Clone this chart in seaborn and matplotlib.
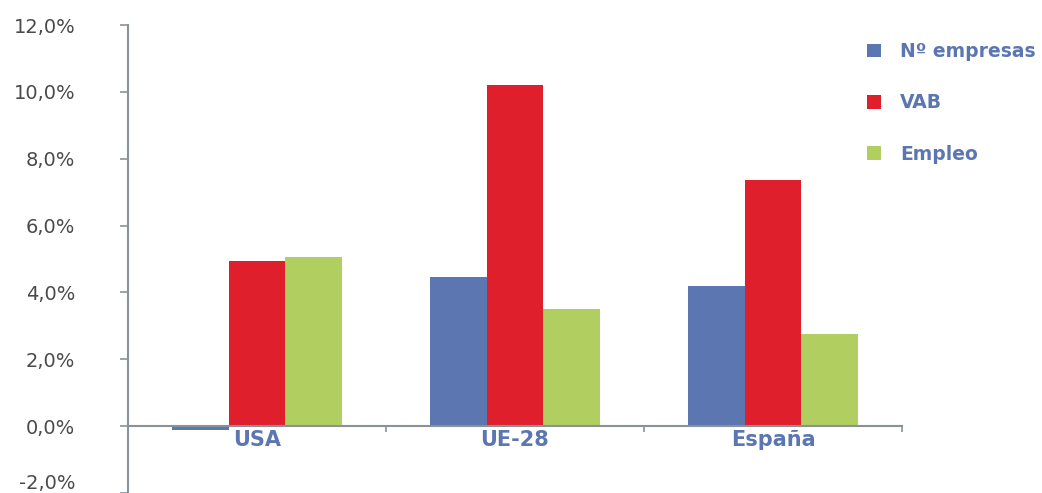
import pandas as pd
import matplotlib
matplotlib.use("Agg")
import matplotlib.pyplot as plt
from matplotlib.patches import Patch
from matplotlib.ticker import FuncFormatter, FixedLocator
import seaborn as sns

regions = ["USA", "UE-28", "España"]
series = ["Nº empresas", "VAB", "Empleo"]
empresas = [-0.1, 4.45, 4.2]
vab = [4.95, 10.2, 7.37]
empleo = [5.05, 3.52, 2.75]
yticks = [-2, 0, 2, 4, 6, 8, 10, 12]

colors = ["#5b76b0", "#e01f2d", "#b0cf60"]
label_blue = "#5b76b0"
axis_gray = "#8a9299"

df = pd.DataFrame({
    "region": regions * 3,
    "serie": [series[0]] * 3 + [series[1]] * 3 + [series[2]] * 3,
    "valor": empresas + vab + empleo,
})

sns.set_style("white")
plt.rcParams["font.family"] = ["DejaVu Sans"]

fig = plt.figure(figsize=(10.42, 4.93), dpi=100)
ax = fig.add_axes([0.1228, 0.0, 0.7428, 0.949])

sns.barplot(data=df, x="region", y="valor", hue="serie", order=regions,
            hue_order=series, palette=colors, width=0.66, saturation=1,
            linewidth=0, ax=ax, legend=False)

ax.set_ylim(-2, 12)
ax.set_xlim(-0.5, 2.5)
ax.set_xlabel("")
ax.set_ylabel("")
ax.yaxis.set_major_locator(FixedLocator(yticks))
ax.yaxis.set_major_formatter(FuncFormatter(lambda v, p: f"{v:.1f}%".replace(".", ",")))
ax.tick_params(axis="y", length=6, width=1.2, color=axis_gray, labelsize=14,
               labelcolor="#4a4a4a", pad=32, left=True)
# lowest label sits just inside the figure bottom, as in the original
ax.get_yticklabels()[0].set_verticalalignment("bottom")

for s in ["top", "right"]:
    ax.spines[s].set_visible(False)
ax.spines["left"].set_color(axis_gray)
ax.spines["left"].set_linewidth(1.5)
ax.spines["bottom"].set_position(("data", 0))
ax.spines["bottom"].set_color(axis_gray)
ax.spines["bottom"].set_linewidth(1.5)

ax.set_xticks([0.5, 1.5, 2.5])
ax.set_xticklabels([])
ax.set_xticks([0, 1, 2], minor=True)
ax.set_xticklabels(regions, minor=True, fontsize=15, fontweight="bold", color=label_blue)
ax.tick_params(axis="x", which="major", length=4, width=1.2, color=axis_gray, bottom=True)
ax.tick_params(axis="x", which="minor", length=0, pad=3)

handles = [Patch(facecolor=c, edgecolor="none") for c in colors]
leg = fig.legend(handles, series, loc="upper left", bbox_to_anchor=(0.816, 0.949),
                 frameon=False, handlelength=0.76, handleheight=0.76, handletextpad=1.0,
                 labelspacing=1.72, prop={"size": 13.5, "weight": "bold"})
for t in leg.get_texts():
    t.set_color(label_blue)

fig.savefig("out.png", dpi=100)
